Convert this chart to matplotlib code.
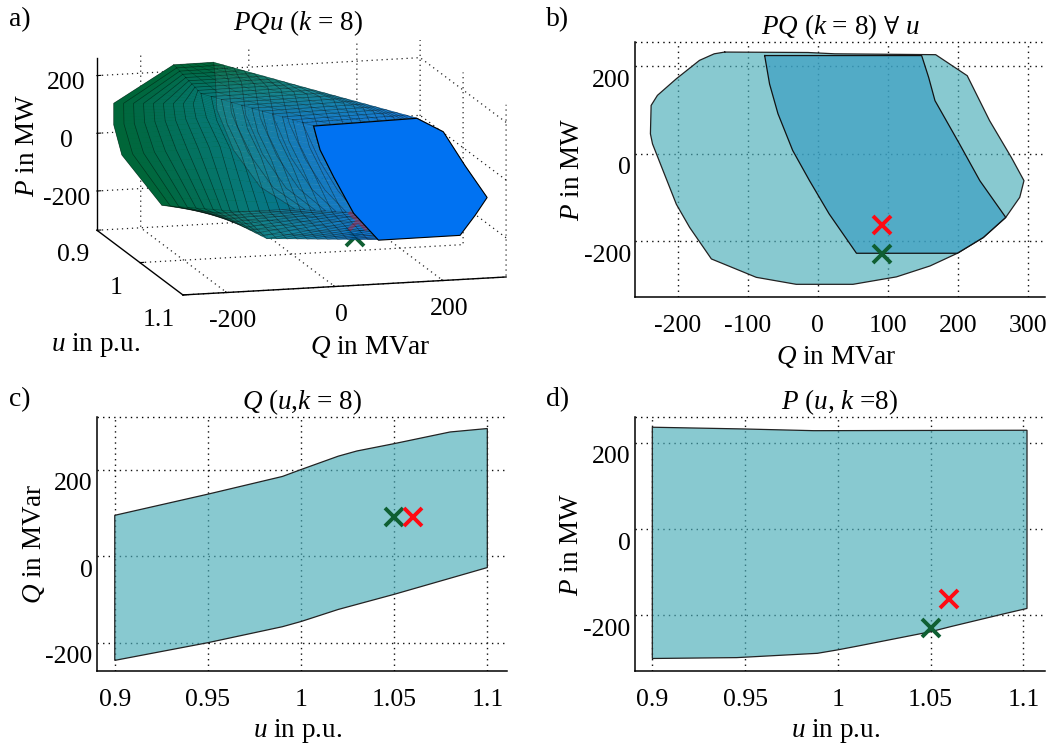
import numpy as np
import matplotlib
matplotlib.use("Agg")
import matplotlib.pyplot as plt
from matplotlib.colors import LinearSegmentedColormap
from matplotlib.transforms import ScaledTranslation
from mpl_toolkits.mplot3d.art3d import Poly3DCollection

plt.rcParams['font.family'] = ['Liberation Serif', 'DejaVu Serif']
plt.rcParams['mathtext.fontset'] = 'custom'
plt.rcParams['mathtext.rm'] = 'Liberation Serif'
plt.rcParams['mathtext.it'] = 'Liberation Serif:italic'
plt.rcParams['mathtext.bf'] = 'Liberation Serif:bold'
plt.rcParams['mathtext.fallback'] = 'stix'

FILL = '#48acb8'
INNER = '#359bc2'
RED = '#ff0a14'
GREEN = '#0f5f32'
FS = 18.5
LAB = 19.5
DOTS = (0, (1, 3))

# markers
u_red, u_green = 1.06, 1.05
q_red, q_green = 91, 91
p_red, p_green = -162, -229
# Q of the same markers as they sit in the 3d view
q3_red, q3_green = 75, 77

# b) outer hull and inner region
outer_q = [-133, -14, 24, 168, 213, 245, 276, 294, 288, 268, 236, 199, 160, 112, 50, -31, -88, -152, -183, -202, -221, -236, -239, -238, -229, -202, -169, -148]
outer_p = [233, 232, 229, 227, 179, 76, -8, -61, -99, -145, -191, -227, -256, -281, -298, -298, -282, -240, -168, -115, -38, 23, 46, 111, 134, 172, 214, 229]
inner_q = [-76, 148, 158, 167, 202, 231, 268, 236, 199, 55, 16, -12, -36, -57, -69]
inner_p = [225, 225, 175, 122, 23, -61, -145, -191, -227, -227, -137, -61, 8, 92, 160]

# c) Q limits over u
c_u_up = [0.9, 0.95, 0.99, 1.0, 1.02, 1.03, 1.05, 1.08, 1.1]
c_q_up = [95, 144, 185, 201, 232, 244, 261, 288, 296]
c_u_lo = [0.9, 0.95, 0.99, 1.0, 1.02, 1.05, 1.1]
c_q_lo = [-241, -200, -163, -151, -123, -88, -26]

# d) P limits over u
d_u_up = [0.9, 0.949, 0.987, 1.102]
d_p_up = [236, 232, 228, 229]
d_u_lo = [0.9, 0.9455, 0.989, 1.0, 1.011, 1.05, 1.061, 1.091, 1.102]
d_p_lo = [-300, -298, -288, -280, -271, -238, -226, -195, -184]

# a) cross sections of the PQ body at three voltages
sec_u = [0.9, 0.99, 1.1]
sec_q = [
    [-139, -65, -62, -59, -28, 21, 85, -60, -161, -235, -250, -250],
    [-160, 31, 85, 110, 140, 165, 185, -38, -90, -125, -150, -156],
    [-40, 151, 200, 240, 281, 259, 231, 80, 34, -3, -28, -35],
]
sec_p = [
    [223, 224, 170, 58, -85, -217, -300, -300, -262, -80, 26, 101],
    [226, 228, 181, 60, -60, -150, -230, -290, -190, 40, 142, 190],
    [226, 233, 181, 60, -55, -114, -181, -182, -84, 46, 142, 190],
]


def ribs(keys, us, n_sub=6):
    # closed outline, each side cut in n_sub, then walked from section to section
    keys = np.array(keys, float)
    keys = np.c_[keys, keys[:, 0]]
    t = np.arange(keys.shape[1])
    tt = np.linspace(0, t[-1], (keys.shape[1] - 1) * n_sub + 1)
    fine = np.array([np.interp(tt, t, row) for row in keys])
    return np.array([[np.interp(u, sec_u, fine[:, j]) for j in range(len(tt))] for u in us])


W, H = 1048, 744
fig = plt.figure(figsize=(W / 100, H / 100), dpi=100)


def px_axes(left, top, right, bottom, **kw):
    return fig.add_axes([left / W, 1 - bottom / H, (right - left) / W, (bottom - top) / H], **kw)


def nudge(labels, dx, dy):
    shift = ScaledTranslation(dx / 100, -dy / 100, fig.dpi_scale_trans)
    for lab in labels:
        lab.set_transform(lab.get_transform() + shift)


def style(ax, xticks, xlabels, yticks, xlab, ylab, title, xlim, ylim):
    ax.set_xlim(xlim)
    ax.set_ylim(ylim)
    ax.set_xticks(xticks, xlabels)
    ax.set_yticks(yticks, [str(v) for v in yticks])
    ax.tick_params(labelsize=FS, length=0, pad=13)
    ax.tick_params(axis='y', pad=3)
    nudge(ax.get_yticklabels(), 0, 12)
    ax.grid(True, color='#111111', linestyle=DOTS, linewidth=1.0)
    ax.set_axisbelow(True)
    ax.spines['right'].set_visible(False)
    ax.spines['top'].set_linestyle(DOTS)
    ax.spines['top'].set_linewidth(1.0)
    ax.spines['top'].set_capstyle('butt')
    ax.spines['left'].set_linewidth(1.1)
    ax.spines['bottom'].set_linewidth(1.1)
    ax.set_xlabel(xlab, fontsize=LAB, va='center')
    ax.set_ylabel(ylab, fontsize=LAB, va='center')
    ax.xaxis.set_label_coords(0.49, -0.235)
    ax.yaxis.set_label_coords(-0.153, 0.5)
    ax.set_title(title, fontsize=LAB, pad=6)


def crosses(ax, x_r, y_r, x_g, y_g):
    ax.plot([x_g], [y_g], 'x', color=GREEN, ms=13, mew=2.8, zorder=5)
    ax.plot([x_r], [y_r], 'x', color=RED, ms=13, mew=2.8, zorder=6)


# a)
S = 500
ax3 = px_axes(301.5 - 0.5135 * S, 167.5 + 0.5135 * S - S, 301.5 - 0.5135 * S + S, 167.5 + 0.5135 * S, projection='3d', proj_type='ortho')
ax3.patch.set_alpha(0)
ax3.view_init(elev=11.8, azim=-15.2)
ax3.set_box_aspect((328, 335, 176), zoom=486 / S)
ax3.set_xlim(0.9, 1.1, view_margin=0)
ax3.set_ylim(-281, 317, view_margin=0)
ax3.set_zlim(-336, 261, view_margin=0)
ax3.computed_zorder = False
ax3.set_xticks([0.9, 1.0, 1.1], ['0.9', '1', '1.1'])
ax3.set_yticks([-200, 0, 200], ['-200', '0', '200'])
ax3.set_zticks([-200, 0, 200], ['-200', '0', '200'])
ax3.tick_params(labelsize=FS, pad=6)
ax3.zaxis.set_ticks_position('lower')
for axis in (ax3.xaxis, ax3.yaxis, ax3.zaxis):
    axis.set_pane_color((1, 1, 1, 0))
    axis.pane.set_edgecolor('none')
    axis.line.set_color('black')
    axis.line.set_linewidth(1.0)
    axis._axinfo['grid'].update(color='#222222', linestyle=DOTS, linewidth=0.9)
    axis._axinfo['tick'].update(inward_factor=0.0, outward_factor=0.15)
nudge(ax3.yaxis.get_ticklabels(), 23, 12)
nudge(ax3.xaxis.get_ticklabels(), 0, 7)
nudge(ax3.zaxis.get_ticklabels(), 0, 7)

ax3.plot([u_green], [q3_green], [p_green], 'x', color=GREEN, ms=13, mew=2.8, zorder=1)

body_cmap = LinearSegmentedColormap.from_list('body', ['#00663a', '#0a7f8c', '#0a72d8'])
us = np.linspace(sec_u[0], sec_u[-1], 21)
qs = ribs(sec_q, us)
ps = ribs(sec_p, us)
polys, cols = [], []
for i in range(len(us) - 1):
    for j in range(qs.shape[1] - 1):
        polys.append([(us[i], qs[i, j], ps[i, j]), (us[i + 1], qs[i + 1, j], ps[i + 1, j]),
                      (us[i + 1], qs[i + 1, j + 1], ps[i + 1, j + 1]), (us[i], qs[i, j + 1], ps[i, j + 1])])
        c = body_cmap(i / (len(us) - 2))
        cols.append((c[0], c[1], c[2], 0.78))
back = Poly3DCollection([list(zip(np.full(qs.shape[1], us[0]), qs[0], ps[0]))], facecolors='#006636', edgecolors='none', zorder=1.5)
ax3.add_collection3d(back)
body = Poly3DCollection(polys, facecolors=cols, edgecolors='none', zorder=2)
ax3.add_collection3d(body)
# ribs all round, lengthwise lines only on the top and bottom faces
for i in range(len(us)):
    ax3.plot(np.full(qs.shape[1], us[i]), qs[i], ps[i], color='black', alpha=0.45, lw=0.5, zorder=2.2)
for j in list(range(0, 7)) + list(range(36, 49)):
    ax3.plot(us, qs[:, j], ps[:, j], color='black', alpha=0.3, lw=0.4, zorder=2.2)
# red cross only shows faintly through the body
ax3.plot([u_red], [q3_red], [p_red], 'x', color=RED, alpha=0.35, ms=13, mew=2.8, zorder=2.5)
front = Poly3DCollection([list(zip(np.full(qs.shape[1], us[-1]), qs[-1], ps[-1]))], facecolors='#0072f2', edgecolors='black', linewidths=0.8, zorder=3)
ax3.add_collection3d(front)

fig.text(298 / W, 1 - 23 / H, r'$PQu$ ($k$ = 8)', fontsize=LAB, ha='center', va='center')
fig.text(27 / W, 1 - 145 / H, r'$P$ in MW', fontsize=LAB, rotation=90, ha='center', va='center')
fig.text(96 / W, 1 - 345 / H, r'$u$ in p.u.', fontsize=LAB, ha='center', va='center')
fig.text(370 / W, 1 - 347 / H, r'$Q$ in MVar', fontsize=LAB, ha='center', va='center')

# b)
ax = px_axes(635, 42, 1045, 297)
ax.fill(outer_q, outer_p, facecolor=FILL, alpha=0.65, zorder=3)
ax.plot(outer_q + outer_q[:1], outer_p + outer_p[:1], color='#222222', lw=0.9, zorder=3.1)
ax.fill(inner_q, inner_p, facecolor=INNER, alpha=0.65, zorder=3.2)
ax.plot(inner_q + inner_q[:1], inner_p + inner_p[:1], color='#111111', lw=0.9, zorder=3.3)
style(ax, [-200, -100, 0, 100, 200, 300], ['-200', '-100', '0', '100', '200', '300'], [-200, 0, 200],
      r'$Q$ in MVar', r'$P$ in MW', r'$PQ$ ($k$ = 8) $\forall$ $u$', (-261, 324), (-327, 256))
crosses(ax, q_red, p_red, q_green, p_green)

# c)
ax = px_axes(96.7, 417.3, 506.7, 671)
ax.fill(c_u_up + c_u_lo[::-1], c_q_up + c_q_lo[::-1], facecolor=FILL, alpha=0.65, zorder=3)
ax.fill(c_u_up + c_u_lo[::-1], c_q_up + c_q_lo[::-1], facecolor='none', edgecolor='#222222', lw=0.9, zorder=3.1)
style(ax, [0.9, 0.95, 1.0, 1.05, 1.1], ['0.9', '0.95', '1', '1.05', '1.1'], [-200, 0, 200],
      r'$u$ in p.u.', r'$Q$ in MVar', r'$Q$ ($u$,$k$ = 8)', (0.8903, 1.1104), (-265.6, 322))
crosses(ax, u_red, q_red, u_green, q_green)

# d)
ax = px_axes(634.7, 417.3, 1045, 671)
ax.fill(d_u_up + d_u_lo[::-1], d_p_up + d_p_lo[::-1], facecolor=FILL, alpha=0.65, zorder=3)
ax.fill(d_u_up + d_u_lo[::-1], d_p_up + d_p_lo[::-1], facecolor='none', edgecolor='#222222', lw=0.9, zorder=3.1)
style(ax, [0.9, 0.95, 1.0, 1.05, 1.1], ['0.9', '0.95', '1', '1.05', '1.1'], [-200, 0, 200],
      r'$u$ in p.u.', r'$P$ in MW', r'$P$ ($u$, $k$ =8)', (0.8905, 1.1117), (-329, 259))
crosses(ax, u_red, p_red, u_green, p_green)

for lab, x, y in [('a)', 20, 20), ('b)', 558, 20), ('c)', 20, 400), ('d)', 558, 400)]:
    fig.text(x / W, 1 - y / H, lab, fontsize=LAB + 0.5, ha='center', va='center')

fig.savefig('out.png', dpi=100)
